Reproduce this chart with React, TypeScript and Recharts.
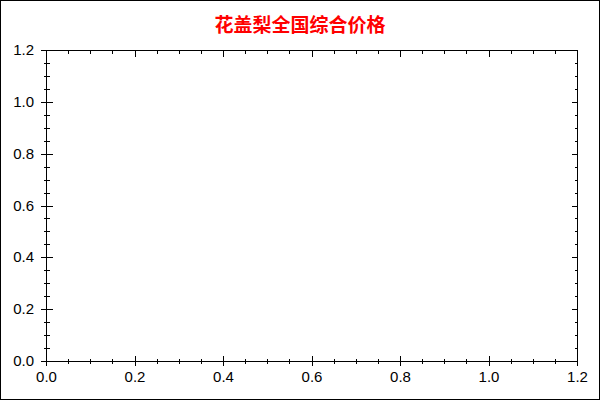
import { LineChart, XAxis, YAxis } from "recharts";

// 花盖梨全国综合价格 — no price rows yet, the chart only shows its empty frame
const title = "花盖梨全国综合价格";
const xDomain: [number, number] = [0, 1.2];
const yDomain: [number, number] = [0, 1.2];
const majorTicks = [0, 0.2, 0.4, 0.6, 0.8, 1.0, 1.2];
const allTicks = [
  0, 0.05, 0.1, 0.15, 0.2, 0.25, 0.3, 0.35, 0.4, 0.45, 0.5, 0.55, 0.6, 0.65,
  0.7, 0.75, 0.8, 0.85, 0.9, 0.95, 1.0, 1.05, 1.1, 1.15, 1.2,
];
const prices: { x: number; y: number | null }[] = [];

const INK = "#000";
const labelFont = { fontFamily: "'Liberation Sans', Arial, sans-serif", fontSize: 15 };

function isMajor(v: number) {
  return majorTicks.some((m) => Math.abs(m - v) < 1e-6);
}

function BottomTick(props: any) {
  const { x, y, payload } = props;
  const major = isMajor(payload.value);
  return (
    <g>
      <line
        x1={x}
        x2={x}
        y1={major ? y - 5.5 : y - 2.5}
        y2={major ? y + 4.5 : y + 2.5}
        stroke={INK}
        shapeRendering="crispEdges"
      />
      {major && (
        <text x={x} y={y + 20.5} textAnchor="middle" fill={INK} {...labelFont}>
          {payload.value.toFixed(1)}
        </text>
      )}
    </g>
  );
}

function LeftTick(props: any) {
  const { x, y, payload } = props;
  const major = isMajor(payload.value);
  return (
    <g>
      <line
        x1={major ? x - 5.5 : x - 2.5}
        x2={major ? x + 6.5 : x + 3.5}
        y1={y}
        y2={y}
        stroke={INK}
        shapeRendering="crispEdges"
      />
      {major && (
        <text x={x - 12.5} y={y + 4.5} textAnchor="end" fill={INK} {...labelFont}>
          {payload.value.toFixed(1)}
        </text>
      )}
    </g>
  );
}

function TopTick(props: any) {
  const { x, y, payload } = props;
  const len = isMajor(payload.value) ? 6 : 3;
  return (
    <line x1={x} x2={x} y1={y} y2={y + len} stroke={INK} shapeRendering="crispEdges" />
  );
}

function RightTick(props: any) {
  const { x, y, payload } = props;
  const len = isMajor(payload.value) ? 6 : 3;
  return (
    <line x1={x - len} x2={x} y1={y} y2={y} stroke={INK} shapeRendering="crispEdges" />
  );
}

export default function App() {
  return (
    <div
      style={{
        position: "absolute",
        left: 0,
        top: 0,
        width: 600,
        height: 400,
        boxSizing: "border-box",
        border: "1px solid #000",
        background: "#fff",
      }}
    >
      <div
        style={{
          position: "absolute",
          left: 0,
          top: 13,
          width: 598,
          textAlign: "center",
          fontFamily: "'Noto Sans CJK SC', sans-serif",
          fontWeight: "bold",
          fontSize: 19,
          lineHeight: "19px",
          color: "#ff0000",
        }}
      >
        {title}
      </div>
      <LineChart
        width={598}
        height={398}
        data={prices}
        margin={{ top: 48.5, right: 20.5, bottom: 7.5, left: 5.5 }}
      >
        <XAxis
          xAxisId="bottom"
          dataKey="x"
          type="number"
          domain={xDomain}
          ticks={allTicks}
          interval={0}
          allowDataOverflow
          height={30}
          tickSize={0}
          tickMargin={0}
          tickLine={false}
          axisLine={{ stroke: INK }}
          tick={<BottomTick />}
        />
        <XAxis
          xAxisId="top"
          orientation="top"
          dataKey="x"
          type="number"
          domain={xDomain}
          ticks={allTicks}
          interval={0}
          allowDataOverflow
          height={1}
          tickSize={0}
          tickMargin={0}
          tickLine={false}
          axisLine={{ stroke: INK }}
          tick={<TopTick />}
        />
        <YAxis
          yAxisId="left"
          dataKey="y"
          type="number"
          domain={yDomain}
          ticks={allTicks}
          interval={0}
          allowDataOverflow
          width={40}
          tickSize={0}
          tickMargin={0}
          tickLine={false}
          axisLine={{ stroke: INK }}
          tick={<LeftTick />}
        />
        <YAxis
          yAxisId="right"
          orientation="right"
          dataKey="y"
          type="number"
          domain={yDomain}
          ticks={allTicks}
          interval={0}
          allowDataOverflow
          width={1}
          tickSize={0}
          tickMargin={0}
          tickLine={false}
          axisLine={{ stroke: INK }}
          tick={<RightTick />}
        />
      </LineChart>
    </div>
  );
}
